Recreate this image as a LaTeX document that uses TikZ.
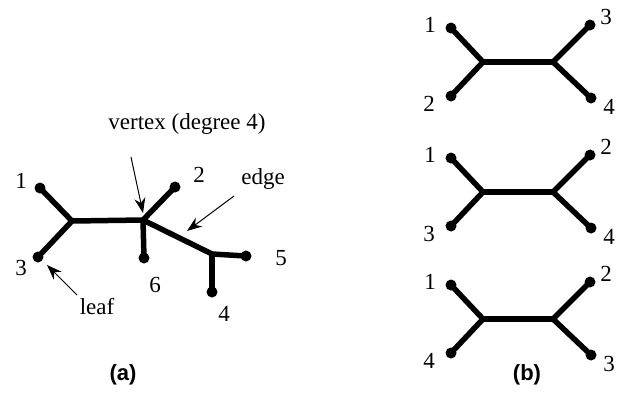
\documentclass[tikz,border=0pt]{standalone}
\usepackage{fontspec}
\setmainfont{Liberation Serif}
\newfontfamily\capfont{Liberation Sans}
\usetikzlibrary{arrows.meta}

\tikzset{
  branch/.style={line width=5.5pt,line cap=round},
  pointer/.style={line width=1pt,-{Stealth[length=15pt,width=11pt]}},
  lab/.style={font=\fontsize{23}{26}\selectfont,inner sep=0pt},
  panel/.style={font=\capfont\bfseries\fontsize{22}{25}\selectfont,inner sep=0pt}
}

\begin{document}
\begin{tikzpicture}[x=1pt,y=-1pt,line join=round]
  \useasboundingbox (0,0) rectangle (620,392);
  % (a) the tree
  \coordinate (a1) at (40,188);
  \coordinate (a3) at (38,257);
  \coordinate (aA) at (72,221);
  \coordinate (aB) at (143,220);
  \coordinate (a2) at (175,187);
  \coordinate (a6) at (144,258);
  \coordinate (aC) at (212,254);
  \coordinate (a5) at (246,256);
  \coordinate (a4) at (212,292);
  \draw[branch] (a1) -- (aA) -- (a3);
  \draw[branch] (aA) -- (aB) -- (a2);
  \draw[branch] (aB) -- (a6);
  \draw[branch] (aB) -- (aC) -- (a5);
  \draw[branch] (aC) -- (a4);
  \foreach \p in {a1,a2,a3,a4,a5,a6} \fill (\p) circle (5.5);
  \node[lab] (la1) at (21,181) {1};
  \node[lab] (la2) at (199,175) {2};
  \node[lab] (la3) at (21,268) {3};
  \node[lab] (la4) at (224,314) {4};
  \node[lab] (la5) at (281,258) {5};
  \node[lab] (la6) at (155,285) {6};
  \node[lab] (vtx) at (187,124) {vertex (degree 4)};
  \node[lab] (edg) at (263,179) {edge};
  \node[lab] (lf) at (97,307) {leaf};
  \coordinate (vtxtail) at (131,157);
  \coordinate (edgtail) at (234,196);
  \coordinate (lftail) at (77,295);
  \coordinate (edgmid) at (187,231);
  \coordinate (lfend) at (47,265);
  \draw[pointer] (vtxtail) -- ([yshift=7]aB);
  \draw[pointer] (edgtail) -- (edgmid);
  \draw[pointer] (lftail) -- (lfend);
  \node[panel] (capa) at (123,375) {(a)};
  % (b) the three trees on four leaves
  \foreach \n/\y/\lt/\lb/\rt/\rb in {t/62/1/2/3/4, m/192/1/3/2/4, u/319/1/4/2/3} {
    \coordinate (\n A) at (483,\y);
    \coordinate (\n B) at (553,\y);
    \coordinate (\n lt) at (451,\y-34);
    \coordinate (\n lb) at (451,\y+34);
    \coordinate (\n rt) at (590,\y-37);
    \coordinate (\n rb) at (591,\y+36);
    \draw[branch] (\n lt) -- (\n A) -- (\n lb);
    \draw[branch] (\n A) -- (\n B);
    \draw[branch] (\n rt) -- (\n B) -- (\n rb);
    \foreach \p in {lt,lb,rt,rb} \fill (\n\p) circle (5.5);
    \node[lab] (\n Llt) at (430,\y-37) {\lt};
    \node[lab] (\n Llb) at (429,\y+42) {\lb};
    \node[lab] (\n Lrt) at (606,\y-45) {\rt};
    \node[lab] (\n Lrb) at (609,\y+45) {\rb};
  }
  \node[panel] (capb) at (527,375) {(b)};
\end{tikzpicture}
\end{document}
